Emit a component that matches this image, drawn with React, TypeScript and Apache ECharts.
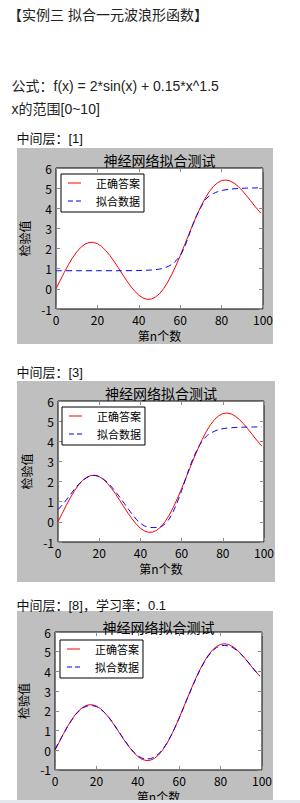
import React, { useEffect, useRef } from "react";
import * as echarts from "echarts";

const PAGE_TITLE = "【实例三 拟合一元波浪形函数】";
const FORMULA = "公式：f(x) = 2*sin(x) + 0.15*x^1.5";
const RANGE_TEXT = "x的范围[0~10]";
const PANEL_LABELS = ["中间层：[1]", "中间层：[3]", "中间层：[8]，学习率：0.1"];
const CHART_TITLE = "神经网络拟合测试";
const X_NAME = "第n个数";
const Y_NAME = "检验值";
const SERIES_NAMES = ["正确答案", "拟合数据"];
const X_TICKS = [0, 20, 40, 60, 80, 100];
const Y_TICKS = [-1, 0, 1, 2, 3, 4, 5, 6];

const TRUE_N = [0, 2, 4, 6, 8, 10, 12, 14, 16, 18, 20, 22, 24, 26, 28, 30, 32, 34, 36, 38, 40, 42, 44, 46, 48, 50, 52, 54, 56, 58, 60, 62, 64, 66, 68, 70, 72, 74, 76, 78, 80, 82, 84, 86, 88, 90, 92, 94, 96, 98, 99];
const TRUE_Y = [0, 0.411, 0.817, 1.199, 1.542, 1.833, 2.061, 2.219, 2.303, 2.31, 2.243, 2.107, 1.909, 1.66, 1.373, 1.062, 0.742, 0.429, 0.14, -0.113, -0.314, -0.452, -0.519, -0.508, -0.415, -0.241, 0.012, 0.337, 0.725, 1.166, 1.646, 2.149, 2.662, 3.166, 3.648, 4.092, 4.485, 4.817, 5.079, 5.265, 5.373, 5.404, 5.361, 5.252, 5.086, 4.874, 4.632, 4.373, 4.113, 3.869, 3.757];

const FIT1_N = [0, 10, 20, 30, 40, 45, 50, 53, 56, 58, 60, 62, 64, 66, 68, 70, 72, 74, 76, 78, 80, 84, 88, 92, 96, 99];
const FIT1_Y = [0.9, 0.9, 0.9, 0.9, 0.91, 0.93, 0.98, 1.06, 1.22, 1.4, 1.65, 2.05, 2.6, 3.15, 3.65, 4.05, 4.42, 4.6, 4.73, 4.82, 4.88, 4.95, 4.98, 5.0, 5.01, 5.02];

const FIT2_N = [0, 3, 6, 9, 12, 15, 18, 21, 24, 27, 30, 33, 36, 39, 42, 45, 48, 51, 54, 57, 60, 63, 66, 69, 72, 75, 78, 81, 85, 90, 95, 99];
const FIT2_Y = [0.6, 0.95, 1.35, 1.75, 2.05, 2.25, 2.3, 2.2, 1.95, 1.62, 1.22, 0.8, 0.38, 0.02, -0.2, -0.28, -0.28, -0.18, 0.15, 0.75, 1.55, 2.45, 3.25, 3.85, 4.25, 4.45, 4.58, 4.64, 4.68, 4.7, 4.71, 4.72];

const FIT3_N = TRUE_N;
const FIT3_Y = [0.05, 0.43, 0.82, 1.19, 1.52, 1.81, 2.03, 2.18, 2.26, 2.27, 2.22, 2.09, 1.91, 1.67, 1.39, 1.08, 0.76, 0.45, 0.16, -0.09, -0.28, -0.4, -0.44, -0.43, -0.35, -0.19, 0.04, 0.35, 0.73, 1.16, 1.63, 2.13, 2.64, 3.14, 3.62, 4.06, 4.45, 4.78, 5.04, 5.21, 5.3, 5.32, 5.29, 5.2, 5.05, 4.86, 4.63, 4.38, 4.12, 3.88, 3.77];

const FITS = [
  { n: FIT1_N, y: FIT1_Y, smooth: 0.3 },
  { n: FIT2_N, y: FIT2_Y, smooth: 0.3 },
  { n: FIT3_N, y: FIT3_Y, smooth: false },
];

// layout (positions only)
const PANELS = [
  { bg: [17, 148, 256, 196], grid: [56, 168, 207, 141], labelY: 138, titleY: 159.5, legend: [61, 174] },
  { bg: [17, 381, 258, 201], grid: [58, 401, 206, 141], labelY: 372.5, titleY: 393, legend: [62, 407] },
  { bg: [17, 611, 256, 192], grid: [55, 632, 207, 142], labelY: 605, titleY: 627, legend: [60, 640] },
];

// legend sample icons: a 13x14 box with tiny corner anchors so the stroke sits in the middle
const ICON_SOLID = "path://M0,0H0.01V0.01H0Z M0,6.5H13V7.5H0Z M12.99,13.99H13V14H12.99Z";
const ICON_DASH = "path://M0,0H0.01V0.01H0Z M0,6.5H5V7.5H0Z M8,6.5H13V7.5H8Z M12.99,13.99H13V14H12.99Z";

const CJK = '"Noto Sans CJK SC", sans-serif';
const PAGE_FONT = '"Liberation Sans", "Noto Sans CJK SC", sans-serif';

export default function App() {
  const ref = useRef<HTMLDivElement>(null);
  useEffect(() => {
    if (!ref.current) return;
    const chart = echarts.init(ref.current, undefined, { renderer: "svg" });

    const graphic: any[] = [];
    graphic.push({ type: "text", x: 8, y: 15, style: { text: PAGE_TITLE, fill: "#222", fontSize: 14, fontFamily: PAGE_FONT, verticalAlign: "middle" } });
    graphic.push({ type: "text", x: 11.5, y: 86, style: { text: FORMULA, fill: "#222", fontSize: 14, fontFamily: PAGE_FONT, verticalAlign: "middle" } });
    graphic.push({ type: "text", x: 11.5, y: 108.5, style: { text: RANGE_TEXT, fill: "#222", fontSize: 14, fontFamily: PAGE_FONT, verticalAlign: "middle" } });

    const grids: any[] = [];
    const xAxes: any[] = [];
    const yAxes: any[] = [];
    const series: any[] = [];
    const legends: any[] = [];

    PANELS.forEach((p, i) => {
      const [bx, by, bw, bh] = p.bg;
      const [gl, gt, gw, gh] = p.grid;
      graphic.push({ type: "rect", z: -10, shape: { x: bx, y: by, width: bw, height: bh }, style: { fill: "#bfbfbf" } });
      graphic.push({ type: "text", x: 16.5, y: p.labelY, style: { text: PANEL_LABELS[i], fill: "#111", fontSize: 13, fontFamily: PAGE_FONT, verticalAlign: "middle" } });
      graphic.push({ type: "text", x: gl + gw / 2, y: p.titleY, style: { text: CHART_TITLE, fill: "#000", fontSize: 14, fontFamily: CJK, align: "center", verticalAlign: "middle" } });

      grids.push({ left: gl, top: gt, width: gw, height: gh, show: true, backgroundColor: "#fff", borderColor: "#000", borderWidth: 1, containLabel: false });

      const tick = { show: true, inside: true, length: 4, lineStyle: { color: "#8a8a8a", width: 1 } };
      const noLine = { show: false, onZero: false };
      xAxes.push({
        type: "value", gridIndex: i, position: "bottom", min: X_TICKS[0], max: X_TICKS[X_TICKS.length - 1], interval: X_TICKS[1] - X_TICKS[0],
        axisLine: noLine, axisTick: tick, splitLine: { show: false },
        axisLabel: { color: "#000", fontSize: 12, fontFamily: CJK, margin: 4 },
        name: X_NAME, nameLocation: "middle", nameGap: 20, nameTextStyle: { color: "#000", fontSize: 12, fontFamily: CJK },
      });
      xAxes.push({
        type: "value", gridIndex: i, position: "top", min: X_TICKS[0], max: X_TICKS[X_TICKS.length - 1], interval: X_TICKS[1] - X_TICKS[0],
        axisLine: noLine, axisTick: tick, splitLine: { show: false }, axisLabel: { show: false },
      });
      yAxes.push({
        type: "value", gridIndex: i, position: "left", min: Y_TICKS[0], max: Y_TICKS[Y_TICKS.length - 1], interval: Y_TICKS[1] - Y_TICKS[0],
        axisLine: noLine, axisTick: tick, splitLine: { show: false },
        axisLabel: { color: "#000", fontSize: 12, fontFamily: CJK, margin: 4 },
        name: Y_NAME, nameLocation: "middle", nameGap: 26, nameRotate: 90, nameTextStyle: { color: "#000", fontSize: 12, fontFamily: CJK },
      });
      yAxes.push({
        type: "value", gridIndex: i, position: "right", min: Y_TICKS[0], max: Y_TICKS[Y_TICKS.length - 1], interval: Y_TICKS[1] - Y_TICKS[0],
        axisLine: noLine, axisTick: tick, splitLine: { show: false }, axisLabel: { show: false },
      });

      series.push({
        type: "line", name: SERIES_NAMES[0], xAxisIndex: 2 * i, yAxisIndex: 2 * i,
        data: TRUE_N.map((n, k) => [n, TRUE_Y[k]]), symbol: "none", showSymbol: false,
        lineStyle: { color: "#ff0000", width: 1 }, itemStyle: { color: "#ff0000" },
      });
      const f = FITS[i];
      series.push({
        type: "line", name: SERIES_NAMES[1], xAxisIndex: 2 * i, yAxisIndex: 2 * i,
        data: f.n.map((n, k) => [n, f.y[k]]), symbol: "none", showSymbol: false, smooth: f.smooth,
        lineStyle: { color: "#0000ff", width: 1, type: [6, 4] }, itemStyle: { color: "#0000ff" },
      });

      legends.push({
        left: p.legend[0], top: p.legend[1], orient: "vertical",
        data: [
          { name: SERIES_NAMES[0], icon: ICON_SOLID },
          { name: SERIES_NAMES[1], icon: ICON_DASH },
        ],
        selectedMode: false,
        backgroundColor: "#fff", borderColor: "#000", borderWidth: 1, borderRadius: 0,
        padding: [2, 4, 4, 7], itemWidth: 13, itemHeight: 14, itemGap: 4,
        itemStyle: { borderWidth: 0 },
        formatter: (name: string) => `{g| }${name}`,
        textStyle: { color: "#000", fontSize: 11, fontFamily: CJK, rich: { g: { width: 10 } } },
      });
    });

    graphic.push({ type: "rect", z: 10, shape: { x: 0, y: 800, width: 300, height: 3 }, style: { fill: "#e4e8ec" } });

    chart.setOption({
      animation: false,
      backgroundColor: "#fff",
      grid: grids,
      xAxis: xAxes,
      yAxis: yAxes,
      legend: legends,
      series,
      graphic,
    });
    return () => chart.dispose();
  }, []);
  return <div ref={ref} style={{ position: "absolute", left: 0, top: 0, width: 300, height: 803 }} />;
}
